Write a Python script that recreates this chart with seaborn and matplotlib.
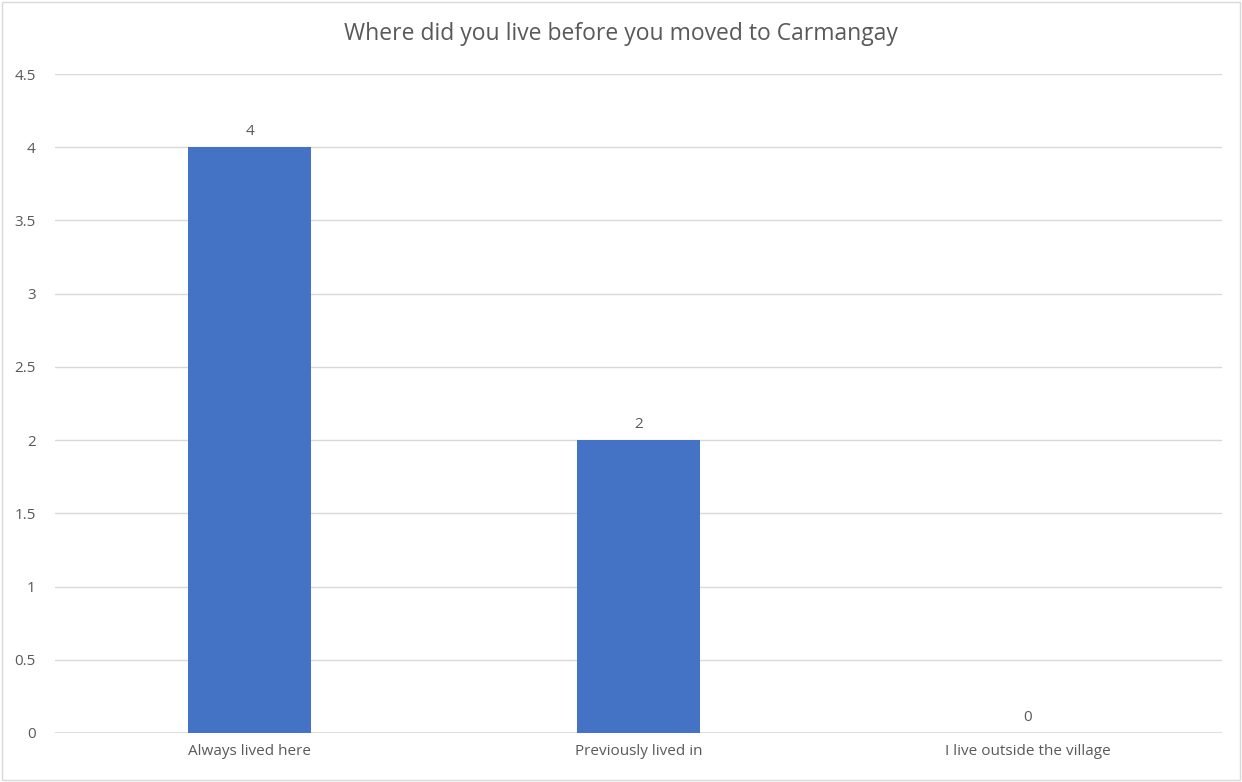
import matplotlib
matplotlib.use("Agg")
import matplotlib.pyplot as plt
import seaborn as sns
import pandas as pd
from matplotlib.patches import Rectangle

# Data
categories = ["Always lived here", "Previously lived in", "I live outside the village"]
counts = [4, 2, 0]
title = "Where did you live before you moved to Carmangay"

df = pd.DataFrame({"category": categories, "count": counts})

sns.set_theme(style="white")
plt.rcParams["font.family"] = ["Open Sans", "DejaVu Sans"]

text_color = "#595959"
grid_color = "#d9d9d9"
bar_color = "#4472c4"

fig = plt.figure(figsize=(12.42, 7.82), dpi=100)
ax = fig.add_axes([55 / 1242, 1 - 733 / 782, 1167 / 1242, (733 - 74) / 782])

sns.barplot(data=df, x="category", y="count", color=bar_color, width=0.315,
            saturation=1, linewidth=0, ax=ax, zorder=3)

ax.set_ylim(0, 4.5)
ax.set_xlim(-0.5, 2.5)
ax.set_yticks([i * 0.5 for i in range(10)])
ax.set_yticklabels(["0", "0.5", "1", "1.5", "2", "2.5", "3", "3.5", "4", "4.5"])
ax.yaxis.grid(True, color=grid_color, linewidth=1, zorder=0)
ax.xaxis.grid(False)
for s in ax.spines.values():
    s.set_visible(False)
ax.axhline(0, color=grid_color, linewidth=1.2, zorder=2)
ax.tick_params(axis="both", length=0, labelsize=11, colors=text_color)
ax.tick_params(axis="y", pad=14)
ax.tick_params(axis="x", pad=8)
ax.set_xlabel("")
ax.set_ylabel("")

# Value labels
for i, v in enumerate(counts):
    ax.annotate(str(v), (i, v), xytext=(0, 6), textcoords="offset points",
                ha="center", va="bottom", fontsize=11, color=text_color)

fig.text(0.5, 1 - 34 / 782, title, ha="center", va="center",
         fontsize=16.5, color=text_color)

# Chart border
fig.patches.append(Rectangle((0.0015, 0.002), 0.997, 0.996, transform=fig.transFigure,
                             fill=False, edgecolor="#d9d9d9", linewidth=1))

fig.savefig("out.png", dpi=100)
